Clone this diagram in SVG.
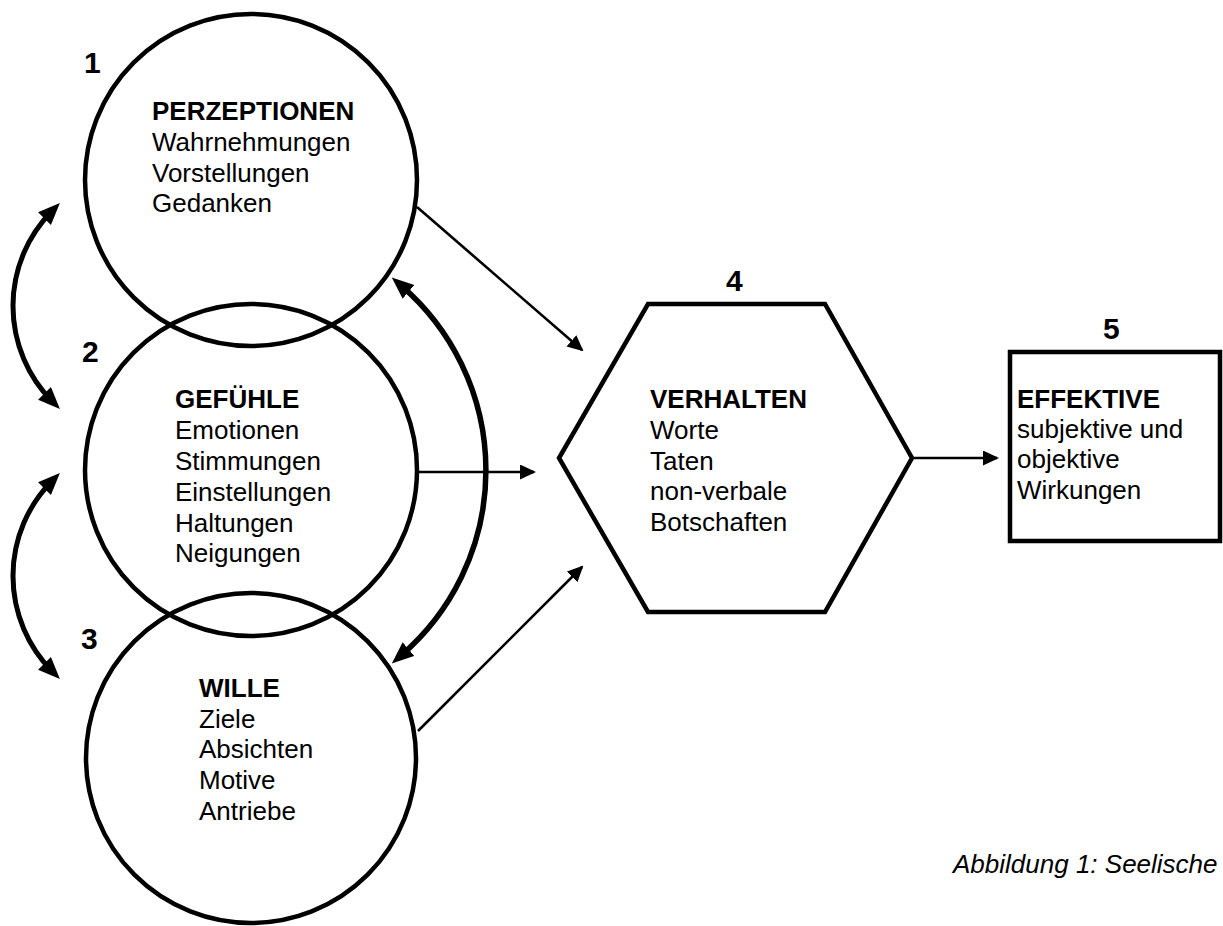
<svg xmlns="http://www.w3.org/2000/svg" width="1223" height="926" viewBox="0 0 1223 926">
<style>
.shape{fill:none;stroke:#000;stroke-width:4.5}
.t{font-family:"Liberation Sans",Arial,sans-serif;font-size:26px;fill:#000}
.b{font-weight:bold}
.num{font-family:"Liberation Sans",Arial,sans-serif;font-size:30px;font-weight:bold;fill:#000}
.thin{fill:none;stroke:#000;stroke-width:2.6;marker-end:url(#ah)}
.thick{fill:none;stroke:#000;stroke-width:5;marker-start:url(#ahb);marker-end:url(#ahb)}
.thicker{fill:none;stroke:#000;stroke-width:5.5;marker-start:url(#ahb);marker-end:url(#ahb)}
</style>
<defs>
<marker id="ah" markerUnits="userSpaceOnUse" markerWidth="16" markerHeight="16" viewBox="0 0 16 16" refX="14" refY="7.5" orient="auto"><path d="M0,0 L16,7.5 L0,15 z" fill="#000"/></marker>
<marker id="ahb" markerUnits="userSpaceOnUse" markerWidth="22" markerHeight="20" viewBox="0 0 22 20" refX="10" refY="9" orient="auto-start-reverse"><path d="M0,0 L22,9 L0,18 z" fill="#000"/></marker>
</defs>
<rect width="1223" height="926" fill="#fff"/>
<g id="node1">
<circle class="shape" cx="251" cy="180" r="166"/>
<text class="num" x="84" y="73">1</text>
<text class="t b" x="152" y="120">PERZEPTIONEN</text>
<text class="t" x="152" y="151">Wahrnehmungen</text>
<text class="t" x="152" y="182">Vorstellungen</text>
<text class="t" x="152" y="212">Gedanken</text>
</g>
<g id="node2">
<circle class="shape" cx="251" cy="470" r="166"/>
<text class="num" x="82" y="362">2</text>
<text class="t b" x="175" y="408">GEFÜHLE</text>
<text class="t" x="175" y="439">Emotionen</text>
<text class="t" x="175" y="470">Stimmungen</text>
<text class="t" x="175" y="501">Einstellungen</text>
<text class="t" x="175" y="532">Haltungen</text>
<text class="t" x="175" y="562">Neigungen</text>
</g>
<g id="node3">
<circle class="shape" cx="251" cy="758" r="165"/>
<text class="num" x="81" y="649">3</text>
<text class="t b" x="199" y="697">WILLE</text>
<text class="t" x="199" y="728">Ziele</text>
<text class="t" x="199" y="758">Absichten</text>
<text class="t" x="199" y="789">Motive</text>
<text class="t" x="199" y="820">Antriebe</text>
</g>
<g id="node4">
<polygon class="shape" points="648,304 825,304 912,458 825,612 648,612 559,458"/>
<text class="num" x="726" y="291">4</text>
<text class="t b" x="650" y="408">VERHALTEN</text>
<text class="t" x="650" y="439">Worte</text>
<text class="t" x="650" y="470">Taten</text>
<text class="t" x="650" y="500">non-verbale</text>
<text class="t" x="650" y="531">Botschaften</text>
</g>
<g id="node5">
<rect class="shape" x="1010" y="352" width="210" height="189"/>
<text class="num" x="1103" y="339">5</text>
<text class="t b" x="1017" y="408">EFFEKTIVE</text>
<text class="t" x="1017" y="438">subjektive und</text>
<text class="t" x="1017" y="468">objektive</text>
<text class="t" x="1017" y="499">Wirkungen</text>
</g>
<g id="connectors">
<path class="thin" d="M417,207 L582,350"/>
<path class="thin" d="M418,472 L534,472"/>
<path class="thin" d="M418,731 L582,567"/>
<path class="thin" d="M914,458 L997,458"/>
<path class="thick" d="M51.5,211.5 A135.2,135.2 0 0 0 51.5,400.5"/>
<path class="thick" d="M51.5,481.5 A135.2,135.2 0 0 0 51.5,670.5"/>
<path class="thicker" d="M400.9,285.4 A244,244 0 0 1 400.9,655.6"/>
</g>
<text class="t" x="953" y="873" font-style="italic">Abbildung 1: Seelische</text>
</svg>
